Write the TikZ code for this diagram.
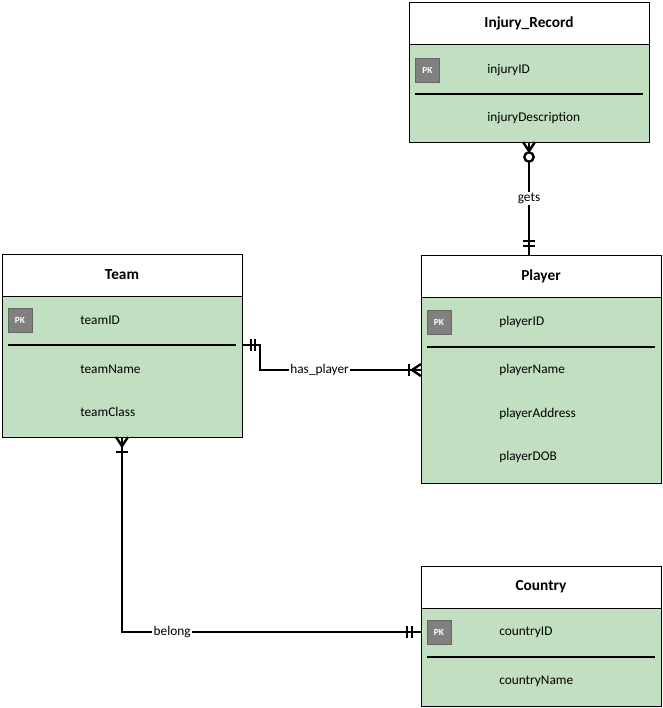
\documentclass[tikz,border=0pt]{standalone}
\usepackage{fontspec}
\setmainfont{Carlito}
\usetikzlibrary{positioning}
\definecolor{erdgreen}{RGB}{194,223,193}
\definecolor{pkgray}{RGB}{128,128,128}

\begin{document}
\begin{tikzpicture}[x=0.75pt,y=-0.75pt,
			entity/.style={
				rectangle,
				draw,
				fill=white,
				line width=0.75pt,
				outer sep=0pt,
				inner sep=0pt,
				minimum width=180pt,
				minimum height=31.5pt,
				anchor=north west,
				font=\fontsize{11.5}{13}\selectfont\bfseries
			},
			attrs/.style={
				rectangle,
				draw,
				fill=erdgreen,
				line width=0.75pt,
				outer sep=0pt,
				inner sep=0pt,
				minimum width=180pt
			},
			pk/.style={
				rectangle,
				draw=black!60,
				fill=pkgray,
				line width=0.6pt,
				minimum size=18pt,
				inner sep=0pt,
				text=white,
				font=\fontsize{7}{8}\selectfont\bfseries
			},
			field/.style={anchor=west, inner sep=0pt, font=\normalsize},
			sep/.style={line width=2.2pt},
			rel/.style={line width=2.2pt},
			tick/.style={line width=1.8pt},
			lbl/.style={fill=white, inner sep=1pt, font=\normalsize},
			zero/.style={circle, draw, fill=white, line width=1.8pt, minimum size=7pt, inner sep=0pt}
			]
			
			\useasboundingbox (0,0) rectangle (663,708);
			
			% entities
			\node (injury) [entity] at (409,2) {Injury\_Record};
			\node (injuryBody) [attrs, minimum height=73.5pt, below=0pt of injury] {};
			\node (team) [entity] at (2,254) {Team};
			\node (teamBody) [attrs, minimum height=105.75pt, below=0pt of team] {};
			\node (player) [entity] at (421,255) {Player};
			\node (playerBody) [attrs, minimum height=139.5pt, below=0pt of player] {};
			\node (country) [entity] at (421,566) {Country};
			\node (countryBody) [attrs, minimum height=73.5pt, below=0pt of country] {};
			
			% attributes
			\node (injuryPK) [pk] at (427.5,70) {PK};
			\node (injuryID) [field] at (487,70) {injuryID};
			\draw [sep] (415,94) -- (643,94);
			\node (injuryDesc) [field] at (487,118) {injuryDescription};
			
			\node (teamPK) [pk] at (20,320) {PK};
			\node (teamID) [field] at (80,320) {teamID};
			\draw [sep] (8,345) -- (236,345) coordinate (teamSepEnd);
			\node (teamName) [field] at (80,369) {teamName};
			\node (teamClass) [field] at (80,412) {teamClass};
			
			\node (playerPK) [pk] at (439,322) {PK};
			\node (playerID) [field] at (499,322) {playerID};
			\draw [sep] (427,347) -- (655,347);
			\node (playerName) [field] at (499,370) {playerName};
			\node (playerAddress) [field] at (499,414) {playerAddress};
			\node (playerDOB) [field] at (499,457) {playerDOB};
			
			\node (countryPK) [pk] at (439,632) {PK};
			\node (countryID) [field] at (499,632) {countryID};
			\draw [sep] (427,657) -- (655,657);
			\node (countryName) [field] at (499,681) {countryName};
			
			% gets
			\draw [rel] (injuryBody.south) -- node[lbl] (getsLbl) {gets} (injuryBody.south |- player.north);
			\draw [tick] (injuryBody.south) ++(-6,0) -- ++(6,9) -- ++(6,-9);
			\path (injuryBody.south) ++(0,15) node (getsZero) [zero] {};
			\draw [tick] (injuryBody.south |- player.north) ++(-6,-14) -- ++(12,0);
			\draw [tick] (injuryBody.south |- player.north) ++(-6,-9) -- ++(12,0);
			
			% has_player
			\draw [rel] (teamBody.east |- teamSepEnd) -- ++(18,0) |- node[lbl, pos=0.685] (hasLbl) {has\_player} (playerBody.west |- playerName);
			\draw [tick] (teamBody.east |- teamSepEnd) ++(9,-6) -- ++(0,12);
			\draw [tick] (teamBody.east |- teamSepEnd) ++(13,-6) -- ++(0,12);
			\draw [tick] (playerBody.west |- playerName) ++(0,-6) -- ++(-9,6) -- ++(9,6);
			\draw [tick] (playerBody.west |- playerName) ++(-12,-6) -- ++(0,12);
			
			% belong
			\draw [rel] (teamBody.south) |- node[lbl, pos=0.584] (belongLbl) {belong} (countryBody.west |- countryID);
			\draw [tick] (teamBody.south) ++(-6,0) -- ++(6,9) -- ++(6,-9);
			\draw [tick] (teamBody.south) ++(-6,15) -- ++(12,0);
			\draw [tick] (countryBody.west |- countryID) ++(-14,-6) -- ++(0,12);
			\draw [tick] (countryBody.west |- countryID) ++(-9,-6) -- ++(0,12);
			
		\end{tikzpicture}
\end{document}
